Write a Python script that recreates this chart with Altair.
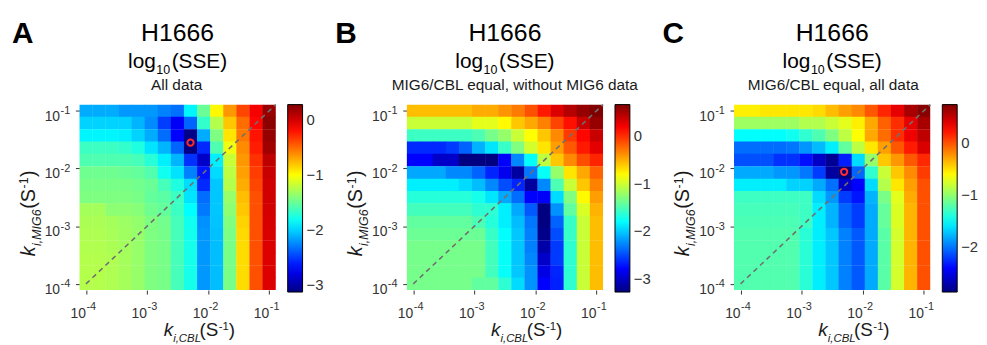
import altair as alt
import pandas as pd

# ---------------- data ----------------
EXPONENTS = [-4.0, -3.786, -3.571, -3.357, -3.143, -2.929, -2.714, -2.5,
             -2.286, -2.071, -1.857, -1.643, -1.429, -1.214, -1.0]
TICK_VALUES = [0.0001, 0.001, 0.01, 0.1]
TICK_SUPS = ["-4", "-3", "-2", "-1"]

# log10(SSE); rows listed from top (k_MIG6 = 1e-1) to bottom (k_MIG6 = 1e-4)
SSE_A = [
    [-2.13, -2.13, -2.13, -2.20, -2.20, -2.20, -2.27, -2.33, -1.88, -1.50, -0.98, -0.65, -0.38, -0.12, 0.20],
    [-2.00, -2.00, -2.00, -2.00, -2.10, -2.24, -2.50, -2.73, -2.37, -1.68, -1.25, -0.81, -0.51, -0.16, 0.24],
    [-1.88, -1.88, -1.88, -1.90, -2.00, -2.13, -2.34, -2.70, -3.10, -2.13, -1.43, -0.91, -0.55, -0.21, 0.21],
    [-1.65, -1.65, -1.65, -1.68, -1.75, -1.94, -2.10, -2.37, -3.13, -2.57, -1.59, -1.05, -0.61, -0.24, 0.17],
    [-1.59, -1.59, -1.59, -1.59, -1.62, -1.72, -1.90, -2.10, -2.54, -2.89, -1.90, -1.18, -0.65, -0.31, 0.07],
    [-1.48, -1.48, -1.48, -1.50, -1.52, -1.58, -1.80, -1.95, -2.27, -2.64, -1.97, -1.22, -0.68, -0.35, 0.04],
    [-1.45, -1.45, -1.45, -1.45, -1.47, -1.50, -1.62, -1.75, -1.97, -2.57, -2.04, -1.25, -0.72, -0.38, 0.01],
    [-1.43, -1.43, -1.43, -1.43, -1.45, -1.52, -1.55, -1.65, -1.94, -2.34, -2.04, -1.35, -0.78, -0.41, 0.01],
    [-1.30, -1.30, -1.38, -1.38, -1.40, -1.48, -1.52, -1.65, -1.85, -2.30, -2.04, -1.38, -0.81, -0.41, 0.00],
    [-1.28, -1.28, -1.30, -1.33, -1.36, -1.43, -1.47, -1.62, -1.80, -2.22, -2.05, -1.42, -0.85, -0.41, -0.01],
    [-1.27, -1.27, -1.29, -1.32, -1.35, -1.43, -1.46, -1.62, -1.79, -2.20, -2.06, -1.44, -0.87, -0.41, -0.02],
    [-1.26, -1.26, -1.28, -1.31, -1.35, -1.43, -1.45, -1.62, -1.78, -2.20, -2.07, -1.45, -0.88, -0.41, -0.03],
    [-1.25, -1.25, -1.27, -1.30, -1.35, -1.43, -1.45, -1.62, -1.78, -2.20, -2.07, -1.45, -0.88, -0.41, -0.03],
    [-1.25, -1.25, -1.27, -1.30, -1.35, -1.43, -1.45, -1.62, -1.78, -2.20, -2.07, -1.45, -0.88, -0.41, -0.03],
    [-1.25, -1.25, -1.27, -1.30, -1.35, -1.43, -1.45, -1.62, -1.78, -2.20, -2.07, -1.45, -0.88, -0.41, -0.03],
]
SSE_B = [
    [-0.57, -0.57, -0.57, -0.57, -0.57, -0.49, -0.49, -0.40, -0.30, -0.14, 0.07, 0.30, 0.46, 0.58, 0.66],
    [-1.03, -1.03, -1.03, -1.03, -1.03, -0.92, -0.92, -0.80, -0.60, -0.48, -0.33, -0.09, 0.11, 0.38, 0.58],
    [-1.57, -1.57, -1.57, -1.57, -1.57, -1.51, -1.35, -1.23, -1.03, -0.82, -0.60, -0.36, -0.05, 0.15, 0.38],
    [-2.63, -2.63, -2.63, -2.57, -2.41, -2.10, -1.90, -1.59, -1.31, -0.99, -0.72, -0.44, -0.17, 0.07, 0.27],
    [-2.79, -2.79, -3.00, -3.00, -3.28, -3.28, -3.28, -2.79, -2.26, -1.80, -1.07, -0.60, -0.36, -0.13, 0.03],
    [-2.14, -2.14, -2.14, -2.26, -2.26, -2.41, -2.65, -2.85, -3.16, -2.33, -1.78, -1.23, -0.72, -0.48, -0.21],
    [-1.86, -1.86, -1.86, -1.86, -1.94, -2.06, -2.26, -2.49, -2.65, -3.16, -2.26, -1.51, -1.03, -0.60, -0.33],
    [-1.66, -1.66, -1.66, -1.66, -1.66, -1.72, -1.90, -2.14, -2.37, -2.79, -2.81, -1.94, -1.31, -0.80, -0.44],
    [-1.55, -1.55, -1.55, -1.55, -1.55, -1.63, -1.63, -1.86, -2.14, -2.45, -3.28, -2.22, -1.43, -0.96, -0.52],
    [-1.43, -1.43, -1.43, -1.43, -1.43, -1.51, -1.66, -1.86, -2.06, -2.33, -3.28, -2.41, -1.59, -1.03, -0.56],
    [-1.39, -1.39, -1.39, -1.39, -1.39, -1.39, -1.59, -1.80, -2.02, -2.30, -3.24, -2.49, -1.59, -1.03, -0.56],
    [-1.35, -1.35, -1.35, -1.35, -1.35, -1.35, -1.55, -1.78, -2.02, -2.30, -3.12, -2.57, -1.63, -1.03, -0.56],
    [-1.35, -1.35, -1.35, -1.35, -1.35, -1.35, -1.55, -1.78, -2.02, -2.26, -3.00, -2.57, -1.63, -1.03, -0.56],
    [-1.35, -1.35, -1.35, -1.35, -1.35, -1.35, -1.55, -1.78, -2.02, -2.22, -2.89, -2.65, -1.63, -1.03, -0.56],
    [-1.35, -1.35, -1.35, -1.35, -1.35, -1.43, -1.43, -1.63, -1.94, -2.22, -2.79, -2.67, -1.63, -1.03, -0.56],
]
SSE_C = [
    [-0.56, -0.56, -0.53, -0.53, -0.53, -0.53, -0.49, -0.38, -0.28, -0.20, -0.02, 0.15, 0.37, 0.59, 0.70],
    [-0.96, -0.96, -0.96, -0.96, -0.96, -0.89, -0.89, -0.81, -0.71, -0.56, -0.31, -0.06, 0.12, 0.37, 0.59],
    [-1.51, -1.51, -1.51, -1.51, -1.46, -1.35, -1.24, -1.07, -0.85, -0.62, -0.31, -0.10, 0.12, 0.33, 0.51],
    [-2.03, -2.03, -2.03, -2.03, -2.00, -1.89, -1.75, -1.57, -1.17, -0.85, -0.53, -0.28, -0.02, 0.19, 0.41],
    [-2.13, -2.13, -2.13, -2.24, -2.24, -2.36, -2.61, -2.79, -2.31, -1.64, -0.99, -0.42, -0.25, -0.03, 0.14],
    [-1.81, -1.81, -1.81, -1.88, -1.88, -1.99, -2.20, -2.75, -2.86, -2.06, -1.34, -0.81, -0.42, -0.21, 0.07],
    [-1.57, -1.57, -1.57, -1.57, -1.67, -1.67, -1.81, -2.02, -2.61, -2.41, -1.64, -0.88, -0.53, -0.28, 0.00],
    [-1.30, -1.30, -1.30, -1.30, -1.30, -1.30, -1.64, -1.88, -2.20, -2.34, -1.78, -1.09, -0.71, -0.32, 0.00],
    [-1.27, -1.27, -1.27, -1.27, -1.27, -1.30, -1.57, -1.78, -2.06, -2.20, -1.81, -1.16, -0.74, -0.35, 0.00],
    [-1.25, -1.25, -1.25, -1.25, -1.25, -1.30, -1.57, -1.78, -2.06, -2.20, -1.81, -1.16, -0.74, -0.35, 0.00],
    [-1.23, -1.23, -1.23, -1.23, -1.23, -1.37, -1.57, -1.71, -1.96, -2.10, -1.81, -1.20, -0.77, -0.35, 0.00],
    [-1.23, -1.23, -1.23, -1.23, -1.23, -1.37, -1.57, -1.71, -1.96, -2.10, -1.81, -1.20, -0.77, -0.35, 0.00],
    [-1.23, -1.23, -1.23, -1.23, -1.23, -1.37, -1.57, -1.71, -1.96, -2.10, -1.81, -1.20, -0.77, -0.35, 0.00],
    [-1.23, -1.23, -1.23, -1.23, -1.23, -1.37, -1.57, -1.71, -1.96, -2.10, -1.81, -1.20, -0.77, -0.35, 0.00],
    [-1.23, -1.23, -1.23, -1.23, -1.23, -1.37, -1.57, -1.71, -1.96, -2.10, -1.81, -1.20, -0.77, -0.35, 0.00],
]

CBAR_LIMITS_A = [-3.13, 0.28]
CBAR_LIMITS_B = [-3.28, 0.66]
CBAR_LIMITS_C = [-2.86, 0.73]
CBAR_TICKS_A = [0, -1, -2, -3]
CBAR_TICKS_B = [0, -1, -2, -3]
CBAR_TICKS_C = [0, -1, -2]

BEST_A = [-2.289, -1.552]   # log10 k_CBL, log10 k_MIG6
BEST_C = [-2.305, -2.057]

TITLE = "H1666"
LETTERS = ["A", "B", "C"]
SUBTITLES = ["All data", "MIG6/CBL equal, without MIG6 data", "MIG6/CBL equal, all data"]

# ---------------- style ----------------
JET = ["#000080", "#0000ff", "#0080ff", "#00ffff", "#80ff80",
       "#ffff00", "#ff8000", "#ff0000", "#800000"]
FONT = "Liberation Sans"
W, H = 198, 187
HALF = 3.0 / 28.0
DMIN = 10 ** (EXPONENTS[0] - HALF)
DMAX = 10 ** (EXPONENTS[-1] + HALF)
INK = "#1a1a1a"
GREY = "#333333"
ONE = pd.DataFrame({"o": [0]})

XS = alt.Scale(type="log", domain=[DMIN, DMAX], nice=False)
YS = alt.Scale(type="log", domain=[DMIN, DMAX], nice=False)
AX = dict(values=TICK_VALUES, labels=False, domain=False, grid=False, ticks=True,
          tickSize=4, tickColor=GREY, tickWidth=1, title=None)
XAXIS = alt.Axis(**AX)
YAXIS = alt.Axis(**AX)


def xenc(field):
    return alt.X(field, type="quantitative", scale=XS, axis=XAXIS)


def yenc(field):
    return alt.Y(field, type="quantitative", scale=YS, axis=YAXIS)


def grid_df(matrix):
    n = len(EXPONENTS)
    eps = 0.003
    rows = []
    for r, row in enumerate(matrix):
        ey = EXPONENTS[n - 1 - r]
        for c, v in enumerate(row):
            ex = EXPONENTS[c]
            rows.append(dict(x=10 ** (ex - HALF - eps), x2=10 ** (ex + HALF + eps),
                             y=10 ** (ey - HALF - eps), y2=10 ** (ey + HALF + eps), v=v))
    return pd.DataFrame(rows)


def txt(text, x, y, size, align="left", style="normal", weight="normal", angle=0,
        color=INK, baseline="alphabetic"):
    return alt.Chart(ONE).mark_text(
        text=text, font=FONT, fontSize=size, align=align, baseline=baseline,
        fontStyle=style, fontWeight=weight, angle=angle, color=color
    ).encode(x=alt.value(x), y=alt.value(y))


def panel(matrix, limits, cticks, letter, subtitle, best, letter_x, sub_dx, anchor=False):
    lo, hi = limits
    stops = [lo + (hi - lo) * i / 8.0 for i in range(9)]
    heat = alt.Chart(grid_df(matrix)).mark_rect(clip=True).encode(
        x=xenc("x"), x2="x2:Q", y=yenc("y"), y2="y2:Q",
        color=alt.Color("v:Q", scale=alt.Scale(domain=stops, range=JET, interpolate="rgb"),
                        legend=alt.Legend(title=None, orient="right", offset=12, padding=0,
                                          values=cticks, format="d", direction="vertical",
                                          gradientLength=189, gradientThickness=15,
                                          gradientStrokeColor="#000000", gradientStrokeWidth=1,
                                          labelFont=FONT, labelFontSize=15, labelColor=GREY,
                                          labelOffset=4, labelOverlap=False)),
    )
    diag = alt.Chart(pd.DataFrame({"x": [TICK_VALUES[0], DMAX], "y": [TICK_VALUES[0], DMAX]})).mark_line(
        strokeDash=[5, 4], color="#707070", strokeWidth=1.6
    ).encode(x=xenc("x"), y=yenc("y"))

    ticks = pd.DataFrame({"val": TICK_VALUES, "sup": TICK_SUPS, "base": ["10"] * 4})
    xl_base = alt.Chart(ticks).mark_text(font=FONT, fontSize=14, align="right", color=GREY).encode(
        x=xenc("val"), y=alt.value(H + 24), text="base:N")
    xl_sup = alt.Chart(ticks).mark_text(font=FONT, fontSize=11, align="left", dx=0.5, color=GREY).encode(
        x=xenc("val"), y=alt.value(H + 17), text="sup:N")
    yl_base = alt.Chart(ticks).mark_text(font=FONT, fontSize=14, align="right", dy=6, color=GREY).encode(
        y=yenc("val"), x=alt.value(-19.5), text="base:N")
    yl_sup = alt.Chart(ticks).mark_text(font=FONT, fontSize=11, align="left", dy=0.5, color=GREY).encode(
        y=yenc("val"), x=alt.value(-19), text="sup:N")

    layers = [heat, diag, xl_base, xl_sup, yl_base, yl_sup]
    if best is not None:
        bdf = pd.DataFrame({"x": [10 ** best[0]], "y": [10 ** best[1]]})
        layers.append(alt.Chart(bdf).mark_point(shape="circle", filled=False, color="#ff2a2a",
                                                strokeWidth=2, size=40, opacity=1).encode(
            x=xenc("x"), y=yenc("y")))

    cx = W / 2
    layers += [
        txt(letter, letter_x, -62, 30, weight="bold", color="#000000"),
        txt(TITLE, cx, -64, 25, align="center", color="#000000"),
        txt("log", cx - 22, -37, 21, align="right", color="#000000"),
        txt("10", cx - 21.5, -31, 12.5, color="#000000"),
        txt("(SSE)", cx - 6, -37, 21, color="#000000"),
        txt(subtitle, cx + sub_dx, -15, 15.5, align="center", color=INK),
        # x axis title
        txt("k", 85, 233, 19, style="italic"),
        txt("i,CBL", 94.5, 239, 11.5, style="italic"),
        txt("(S", 121, 233, 19),
        txt("-1", 140.5, 227, 11.5),
        txt(")", 150.5, 233, 19),
        # y axis title (rotated)
        txt("k", -45, 153, 20, style="italic", angle=270),
        txt("i,MIG6", -39, 142.5, 12.5, style="italic", angle=270),
        txt("(S", -45, 105, 20, angle=270),
        txt("-1", -51.5, 84.5, 12.5, angle=270),
        txt(")", -45, 73, 20, angle=270),
    ]
    if anchor:
        layers.append(alt.Chart(ONE).mark_rect(opacity=0).encode(
            x=alt.value(-72), x2=alt.value(-71), y=alt.value(-96), y2=alt.value(-95)))
    return alt.layer(*layers).properties(width=W, height=H)


pA = panel(SSE_A, CBAR_LIMITS_A, CBAR_TICKS_A, LETTERS[0], SUBTITLES[0], BEST_A, -68, -1, anchor=True)
pB = panel(SSE_B, CBAR_LIMITS_B, CBAR_TICKS_B, LETTERS[1], SUBTITLES[1], None, -72, 10)
pC = panel(SSE_C, CBAR_LIMITS_C, CBAR_TICKS_C, LETTERS[2], SUBTITLES[2], BEST_C, -72, 1)

chart = alt.hconcat(pA, pB, pC, spacing=132, bounds="flush").resolve_scale(
    color="independent", x="independent", y="independent"
).properties(padding=0).configure_view(stroke=None)

chart.save("out.html", embed_options={"renderer": "svg", "actions": False})
